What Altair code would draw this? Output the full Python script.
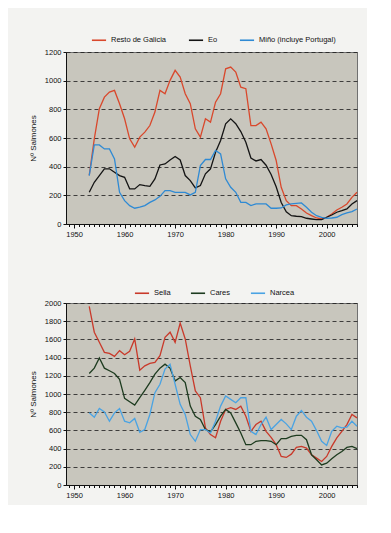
import altair as alt
import pandas as pd

years = list(range(1953, 2007))

# Top chart (Galicia)
resto_galicia = [340, 594, 804, 885, 920, 932, 839, 734, 594, 536,
                 606, 641, 687, 781, 932, 909, 1002, 1072, 1025, 909,
                 839, 664, 606, 734, 711, 850, 909, 1083, 1095, 1060,
                 955, 944, 687, 687, 711, 664, 559, 443, 256, 163,
                 128, 128, 105, 77, 58, 42, 35, 47, 70, 98,
                 117, 140, 186, 221]
eo = [221, 291, 338, 385, 385, 361, 338, 326, 245, 245,
      275, 268, 263, 315, 412, 419, 447, 471, 447, 338,
      303, 252, 268, 350, 385, 501, 583, 699, 734, 700,
      645, 570, 460, 440, 450, 410, 345, 260, 150, 85,
      58, 54, 51, 40, 35, 30, 30, 47, 63, 82,
      93, 105, 140, 163]
mino = [338, 552, 552, 524, 524, 454, 221, 163, 128, 110,
        117, 128, 151, 168, 193, 233, 233, 221, 221, 221,
        203, 221, 408, 450, 450, 513, 489, 315, 256, 221,
        151, 151, 128, 140, 140, 140, 110, 110, 112, 133,
        140, 144, 147, 117, 82, 58, 47, 40, 42, 47,
        65, 77, 86, 105]

# Bottom chart (Asturias)
sella = [1963, 1679, 1568, 1458, 1446, 1413, 1476, 1432, 1469, 1605,
         1262, 1310, 1336, 1347, 1421, 1624, 1679, 1568, 1779, 1605,
         1310, 1033, 959, 627, 554, 520, 701, 830, 849, 830,
         867, 756, 590, 664, 701, 590, 524, 443, 314, 303,
         339, 413, 424, 406, 332, 295, 258, 314, 424, 517,
         590, 664, 775, 738]
cares = [1225, 1284, 1395, 1284, 1255, 1225, 1162, 952, 915, 878,
         959, 1041, 1125, 1218, 1284, 1328, 1284, 1144, 1181, 1125,
         867, 756, 720, 609, 583, 664, 756, 830, 793, 683,
         572, 443, 443, 480, 487, 487, 480, 443, 509, 509,
         535, 546, 546, 498, 332, 277, 221, 240, 288, 332,
         369, 413, 424, 399]
narcea = [793, 745, 841, 804, 701, 793, 841, 701, 683, 731,
          579, 609, 775, 1015, 1107, 1273, 1328, 1107, 886, 775,
          554, 480, 609, 609, 572, 701, 867, 978, 941, 904,
          959, 959, 590, 554, 664, 745, 609, 664, 720, 672,
          609, 756, 819, 745, 701, 598, 480, 435, 590, 646,
          627, 635, 701, 646]

top_names = ["Resto de Galicia", "Eo", "Miño (incluye Portugal)"]
top_colors = ["#d9482c", "#141414", "#2f8ad4"]
bot_names = ["Sella", "Cares", "Narcea"]
bot_colors = ["#c9392a", "#1d3b1f", "#4aa3e3"]

tick_years = list(range(1949, 2007))


def to_long(names, series):
    rows = []
    for n, s in zip(names, series):
        for yr, v in zip(years, s):
            rows.append({"Año": yr, "Serie": n, "Valor": v})
    return pd.DataFrame(rows)


def panel(df, names, colors, ymax, height, lx, ly, col_pad):
    x = alt.X(
        "Año:Q",
        scale=alt.Scale(domain=[1948.4, 2006], nice=False, zero=False),
        axis=alt.Axis(
            values=tick_years,
            format="d",
            labelExpr="datum.value % 10 === 0 ? datum.label : ''",
            tickSize={"condition": {"test": "datum.value % 10 === 0", "value": 4}, "value": 2.5},
            title=None,
            grid=False,
            labelOverlap=False,
            labelFlush=False,
            labelPadding=2,
        ),
    )
    y = alt.Y(
        "Valor:Q",
        scale=alt.Scale(domain=[0, ymax], nice=False),
        axis=alt.Axis(
            values=list(range(0, ymax + 1, 200)),
            format="d",
            title="Nº Salmones",
            grid=True,
            gridDash=[4, 3],
            gridColor="#1a1a1a",
            gridWidth=0.8,
            tickSize=3,
            labelPadding=2,
            titlePadding=7,
        ),
    )
    color = alt.Color(
        "Serie:N",
        scale=alt.Scale(domain=names, range=colors),
        legend=alt.Legend(
            orient="none",
            legendX=lx,
            legendY=ly,
            direction="horizontal",
            title=None,
            symbolType="stroke",
            symbolSize=200,
            symbolStrokeWidth=1.6,
            columnPadding=col_pad,
            labelOffset=4,
        ),
    )
    return (
        alt.Chart(df)
        .mark_line(strokeWidth=1.3)
        .encode(x=x, y=y, color=color)
        .properties(width=291, height=height)
    )


top = panel(to_long(top_names, [resto_galicia, eo, mino]), top_names, top_colors,
            1200, 172, 25, -20, 18)
bottom = panel(to_long(bot_names, [sella, cares, narcea]), bot_names, bot_colors,
               2000, 182, 68, -18, 16)

chart = (
    alt.vconcat(top, bottom, spacing=46)
    .resolve_scale(color="independent")
    .resolve_legend(color="independent")
    .properties(padding={"left": 20, "top": 23, "right": 6, "bottom": 6},
                background="#f3f3f1")
    .configure_view(fill="#c8c6bd", stroke="#707070", strokeWidth=1)
    .configure_axis(
        labelFont="Liberation Sans",
        labelFontSize=7.5,
        labelColor="#111111",
        domainColor="#111111",
        tickColor="#111111",
        titleFont="Liberation Sans",
        titleFontSize=8,
        titleFontWeight="normal",
        titleColor="#111111",
    )
    .configure_legend(labelFont="Liberation Sans", labelFontSize=7.5, labelColor="#111111")
)

chart.save("out.html", embed_options={"renderer": "svg", "actions": False})
